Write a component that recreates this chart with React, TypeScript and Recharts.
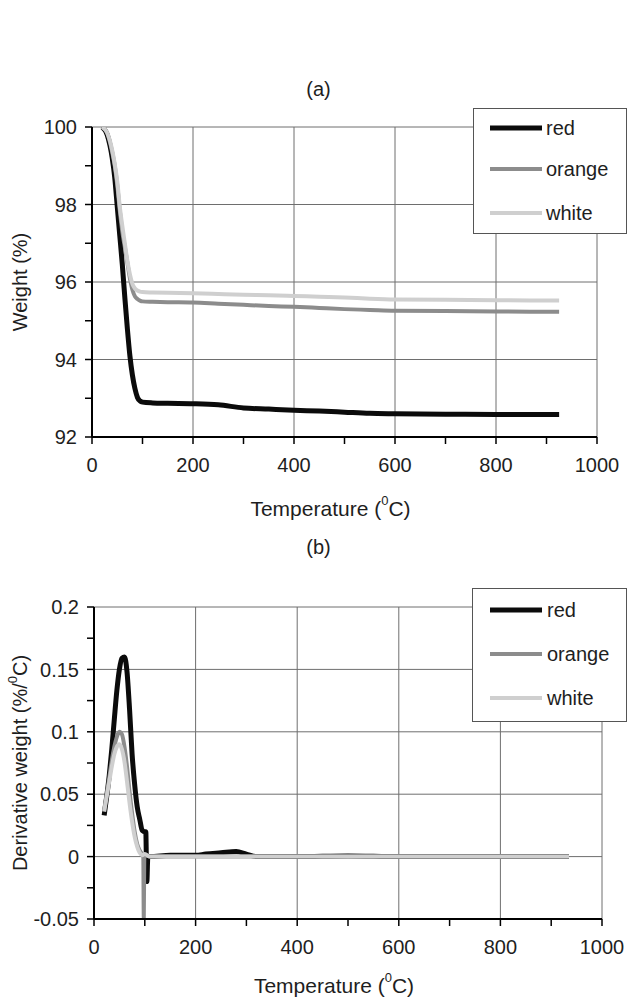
import React from 'react';
import { LineChart, Line, XAxis, YAxis, CartesianGrid, Legend, Label } from 'recharts';

const FONT = '"Liberation Sans", Arial, Helvetica, sans-serif';
const TEXT = '#1e1e1e';
const FS = 20;

// (a) weight curves
const weightTemps = [20, 30, 40, 45, 50, 55, 60, 65, 70, 75, 80, 85, 90, 95, 100, 120, 150, 200, 250, 300, 350, 400, 450, 500, 550, 600, 700, 800, 925];
const weightRed = [100, 99.8, 99.2, 98.7, 97.95, 97.2, 96.45, 95.6, 94.8, 94.1, 93.6, 93.25, 93.02, 92.93, 92.9, 92.88, 92.87, 92.86, 92.83, 92.75, 92.72, 92.69, 92.67, 92.64, 92.61, 92.6, 92.59, 92.58, 92.58];
const weightOrange = [100, 99.85, 99.35, 99.0, 98.5, 97.85, 97.3, 96.9, 96.5, 96.1, 95.8, 95.63, 95.56, 95.52, 95.5, 95.49, 95.48, 95.47, 95.44, 95.41, 95.38, 95.36, 95.33, 95.3, 95.28, 95.26, 95.25, 95.24, 95.23];
const weightWhite = [100, 99.85, 99.4, 99.05, 98.6, 97.95, 97.45, 97.0, 96.55, 96.2, 95.95, 95.83, 95.78, 95.75, 95.74, 95.73, 95.72, 95.71, 95.69, 95.67, 95.66, 95.64, 95.62, 95.6, 95.57, 95.55, 95.54, 95.53, 95.52];

// (b) derivative curves
const derivTempsRed = [20, 25, 30, 35, 40, 45, 50, 55, 60, 65, 70, 75, 80, 85, 90, 95, 100, 102, 103, 104, 106, 110, 150, 200, 220, 250, 280, 300, 320, 400, 500, 600, 700, 800, 935];
const derivRed = [0.033, 0.048, 0.065, 0.086, 0.11, 0.133, 0.15, 0.159, 0.16, 0.148, 0.118, 0.082, 0.058, 0.04, 0.03, 0.021, 0.02, 0.02, 0.0, -0.02, 0.0, 0.0, 0.001, 0.001, 0.002, 0.003, 0.004, 0.002, 0.0, 0.0, 0.0005, 0.0, 0.0, 0.0, 0.0];
const derivTempsOrange = [20, 25, 30, 35, 40, 45, 50, 55, 60, 65, 70, 75, 80, 85, 90, 95, 97, 98, 99, 100, 110, 200, 300, 400, 500, 600, 700, 800, 935];
const derivOrange = [0.037, 0.05, 0.063, 0.077, 0.088, 0.096, 0.1, 0.098, 0.088, 0.072, 0.052, 0.035, 0.02, 0.01, 0.005, 0.002, 0.001, -0.05, 0.0, 0.001, 0.0, 0.0, 0.0, 0.0, 0.0, 0.0, 0.0, 0.0, 0.0];
const derivTempsWhite = [20, 25, 30, 35, 40, 45, 50, 55, 60, 65, 70, 75, 80, 85, 90, 95, 100, 110, 200, 300, 400, 500, 600, 700, 800, 935];
const derivWhite = [0.036, 0.048, 0.06, 0.072, 0.082, 0.088, 0.09, 0.086, 0.076, 0.06, 0.043, 0.028, 0.016, 0.008, 0.003, 0.001, 0.002, 0.0, 0.0, 0.0, 0.0, 0.0, 0.0, 0.0, 0.0, 0.0];

const tempTicks = [0, 100, 200, 300, 400, 500, 600, 700, 800, 900, 1000];
const tempGrid = [200, 400, 600, 800, 1000];
const weightTicks = [92, 93, 94, 95, 96, 97, 98, 99, 100];
const weightGrid = [94, 96, 98, 100];
const derivTicks = [-0.05, -0.025, 0, 0.025, 0.05, 0.075, 0.1, 0.125, 0.15, 0.175, 0.2];
const derivGrid = [0, 0.05, 0.1, 0.15, 0.2];

const seriesNames = ['red', 'orange', 'white'];
const seriesColors = ['#0b0b0b', '#8c8c8c', '#cfcfcf'];
const seriesWidths = [5, 4, 4];

const pair = (xs: number[], ys: number[]) => xs.map((t, i) => ({ t, v: ys[i] }));

const tickStyle = { fontFamily: FONT, fontSize: FS, fill: TEXT };

const gridX = (vals: number[]) => ({ xAxis, offset }: any) =>
  vals.map(v => (xAxis && typeof xAxis.scale === 'function' ? xAxis.scale(v) : offset.left + (v / 1000) * offset.width));
const gridY = (vals: number[], lo: number, hi: number) => ({ yAxis, offset }: any) =>
  vals.map(v => (yAxis && typeof yAxis.scale === 'function' ? yAxis.scale(v) : offset.top + ((hi - v) / (hi - lo)) * offset.height));

const XTitle = (props: any) => {
  const { x, y, width } = props.viewBox;
  return (
    <text x={x + width / 2 - 14} y={y + props.gap} textAnchor="middle" dominantBaseline="central" style={{ fontFamily: FONT, fontSize: FS + 1, fill: TEXT }}>
      Temperature (<tspan dy={-8} fontSize={13}>0</tspan><tspan dy={8}>C)</tspan>
    </text>
  );
};

const YTitle = ({ viewBox, text, sup }: any) => {
  const cx = 20;
  const cy = viewBox.y + viewBox.height / 2;
  return (
    <text x={cx} y={cy} transform={`rotate(-90, ${cx}, ${cy})`} textAnchor="middle" dominantBaseline="central"
      style={{ fontFamily: FONT, fontSize: FS, fill: TEXT }}>
      {sup ? (
        <>
          {text}(%/<tspan dy={-8} fontSize={13}>0</tspan><tspan dy={8}>C)</tspan>
        </>
      ) : text}
    </text>
  );
};

const LegendBox = ({ w, h, rows, lineX0, lineX1, textX }: any) => (
  <svg width={w} height={h} style={{ display: 'block' }}>
    <rect x={0.5} y={0.5} width={w - 1} height={h - 1} fill="#fff" stroke="#555" strokeWidth={1} />
    {seriesNames.map((name, i) => (
      <g key={name}>
        <line x1={lineX0} x2={lineX1} y1={rows[i]} y2={rows[i]} stroke={seriesColors[i]} strokeWidth={seriesWidths[i]} />
        <text x={textX} y={rows[i]} dominantBaseline="central" style={{ fontFamily: FONT, fontSize: FS, fill: TEXT }}>{name}</text>
      </g>
    ))}
  </svg>
);

const axisLine = { stroke: '#000', strokeWidth: 2 };
const tickLine = { stroke: '#000', strokeWidth: 1.5 };

const App: React.FC = () => {
  const weightSets = [pair(weightTemps, weightRed), pair(weightTemps, weightOrange), pair(weightTemps, weightWhite)];
  const derivSets = [pair(derivTempsRed, derivRed), pair(derivTempsOrange, derivOrange), pair(derivTempsWhite, derivWhite)];
  const majorDeriv = (v: number) => Math.abs(v / 0.05 - Math.round(v / 0.05)) < 1e-6;

  return (
    <div style={{ position: 'absolute', left: 0, top: 0, width: 629, height: 997, background: '#fff', fontFamily: FONT, overflow: 'hidden' }}>
      <div style={{ position: 'absolute', left: 0, width: 629, top: 78, textAlign: 'center', fontSize: FS, color: TEXT, paddingLeft: 4 }}>(a)</div>
      <div style={{ position: 'absolute', left: 0, top: 0 }}>
        <LineChart width={629} height={530} margin={{ top: 127, right: 32, bottom: 53, left: 32 }}>
          <CartesianGrid stroke="#6e6e6e" strokeWidth={1}
            verticalCoordinatesGenerator={gridX(tempGrid)}
            horizontalCoordinatesGenerator={gridY(weightGrid, 92, 100)} />
          <XAxis type="number" dataKey="t" domain={[0, 1000]} ticks={tempTicks} allowDataOverflow
            tickFormatter={(v: number) => (v % 200 === 0 ? String(v) : '')}
            axisLine={axisLine} tickLine={tickLine} tickSize={7} tickMargin={14} height={40} tick={tickStyle}>
            <Label content={<XTitle gap={71} />} />
          </XAxis>
          <YAxis type="number" domain={[92, 100]} ticks={weightTicks} allowDataOverflow
            tickFormatter={(v: number) => (v % 2 === 0 ? String(v) : '')}
            axisLine={axisLine} tickLine={tickLine} tickSize={7} tickMargin={8} width={60} tick={tickStyle}>
            <Label content={<YTitle text="Weight (%)" />} />
          </YAxis>
          {weightSets.map((d, i) => (
            <Line key={seriesNames[i]} data={d} dataKey="v" name={seriesNames[i]} type="monotone" stroke={seriesColors[i]}
              strokeWidth={seriesWidths[i]} dot={false} isAnimationActive={false} />
          ))}
          <Legend layout="vertical" align="center" verticalAlign="middle"
            wrapperStyle={{ position: 'absolute', left: 473, top: 108, width: 154, height: 126 }}
            content={() => <LegendBox w={154} h={126} rows={[20, 61, 105]} lineX0={17} lineX1={69} textX={73} />} />
        </LineChart>
      </div>

      <div style={{ position: 'absolute', left: 0, width: 629, top: 536, textAlign: 'center', fontSize: FS, color: TEXT, paddingLeft: 4 }}>(b)</div>
      <div style={{ position: 'absolute', left: 0, top: 490 }}>
        <LineChart width={629} height={507} margin={{ top: 117, right: 27, bottom: 38, left: 34 }}>
          <CartesianGrid stroke="#6e6e6e" strokeWidth={1}
            verticalCoordinatesGenerator={gridX(tempGrid)}
            horizontalCoordinatesGenerator={gridY(derivGrid, -0.05, 0.2)} />
          <XAxis type="number" dataKey="t" domain={[0, 1000]} ticks={tempTicks} allowDataOverflow
            tickFormatter={(v: number) => (v % 200 === 0 ? String(v) : '')}
            axisLine={axisLine} tickLine={tickLine} tickSize={7} tickMargin={14} height={40} tick={tickStyle}>
            <Label content={<XTitle gap={66} />} />
          </XAxis>
          <YAxis type="number" domain={[-0.05, 0.2]} ticks={derivTicks} allowDataOverflow
            tickFormatter={(v: number) => (majorDeriv(v) ? String(Math.round(v * 100) / 100) : '')}
            axisLine={axisLine} tickLine={tickLine} tickSize={7} tickMargin={8} width={60} tick={tickStyle}>
            <Label content={<YTitle text="Derivative weight " sup />} />
          </YAxis>
          {derivSets.map((d, i) => (
            <Line key={seriesNames[i]} data={d} dataKey="v" name={seriesNames[i]} type="monotone" stroke={seriesColors[i]}
              strokeWidth={seriesWidths[i]} dot={false} isAnimationActive={false} />
          ))}
          <Legend layout="vertical" align="center" verticalAlign="middle"
            wrapperStyle={{ position: 'absolute', left: 472, top: 98, width: 155, height: 134 }}
            content={() => <LegendBox w={155} h={134} rows={[22, 66, 110]} lineX0={18} lineX1={70} textX={75} />} />
        </LineChart>
      </div>
    </div>
  );
};

export default App;
